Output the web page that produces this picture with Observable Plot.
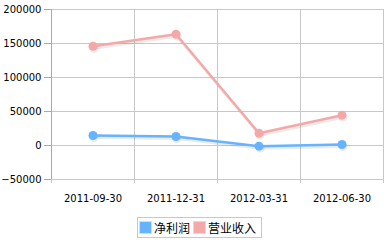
<!DOCTYPE html>
<html><head><meta charset="utf-8">
<script src="https://cdn.jsdelivr.net/npm/d3@7"></script>
<script src="https://cdn.jsdelivr.net/npm/@observablehq/plot@0.6"></script>
<style>
body{margin:0;background:#fff;width:390px;height:242px;overflow:hidden;font-family:"DejaVu Sans",sans-serif}
#legend{position:absolute;left:137px;top:217px;height:19px;border:1px solid #c8c8c8;display:flex;align-items:center;padding:0 2px 0 1px;font-family:"Noto Sans CJK SC",sans-serif;font-size:12px;line-height:19px;background:#fff}
#legend .sw{display:inline-block;width:13px;height:13px;margin:0 2px 0 0;border:1px solid #ddd;box-sizing:border-box}
#legend .it{display:flex;align-items:center;margin-right:3px}
</style></head><body>
<div id="chart"></div>
<div id="legend"></div>
<script>
const categories = ["2011-09-30", "2011-12-31", "2012-03-31", "2012-06-30"];
const netProfit = [14700, 13200, -1000, 1500];
const revenue = [146000, 163700, 18100, 44600];
const seriesNames = ["净利润", "营业收入"];
const seriesColors = ["#66b3ff", "#f5a8a8"];
const yTicks = [-50000, 0, 50000, 100000, 150000, 200000];

const data = [];
categories.forEach((c, i) => {
  data.push({pos: i + 0.5, v: netProfit[i], s: seriesNames[0]});
  data.push({pos: i + 0.5, v: revenue[i], s: seriesNames[1]});
});
const edges = d3.range(categories.length + 1);
const centers = categories.map((c, i) => i + 0.5);

const chart = Plot.plot({
  width: 390, height: 210,
  marginLeft: 51, marginRight: 7, marginTop: 9, marginBottom: 31,
  x: {domain: [0, categories.length], axis: null},
  y: {domain: [-50000, 200000], axis: null},
  color: {domain: seriesNames, range: seriesColors},
  style: {fontFamily: "DejaVu Sans", fontSize: "10px", color: "#000", background: "#fff"},
  marks: [
    Plot.gridY(yTicks, {stroke: "#c8c8c8", strokeOpacity: 1}),
    Plot.gridX(edges, {stroke: "#c8c8c8", strokeOpacity: 1}),
    Plot.axisY({ticks: yTicks, tickSize: 7, tickPadding: 3, tickFormat: d3.format("d"), stroke: "#aaa", label: null}),
    Plot.axisX({ticks: edges, tickSize: 4, tickFormat: () => "", stroke: "#c8c8c8", label: null}),
    Plot.axisX({ticks: centers, tickSize: 0, tickPadding: 15, tickFormat: d => categories[Math.floor(d)], label: null}),
    Plot.ruleX([0], {stroke: "#aaa"}),
    Plot.ruleY([-50000], {stroke: "#c8c8c8"}),
    Plot.line(data, {x: "pos", y: "v", z: "s", stroke: "#000", strokeOpacity: 0.08, strokeWidth: 3, dx: 1, dy: 2}),
    Plot.dot(data, {x: "pos", y: "v", fill: "#000", fillOpacity: 0.08, r: 4.5, dx: 1, dy: 2}),
    Plot.line(data, {x: "pos", y: "v", z: "s", stroke: "s", strokeWidth: 2.5}),
    Plot.dot(data, {x: "pos", y: "v", fill: "s", r: 4.5})
  ]
});
document.getElementById("chart").appendChild(chart);

const legend = document.getElementById("legend");
seriesNames.forEach((n, i) => {
  const it = document.createElement("span");
  it.className = "it";
  const sw = document.createElement("span");
  sw.className = "sw";
  sw.style.background = seriesColors[i];
  it.appendChild(sw);
  it.appendChild(document.createTextNode(n));
  legend.appendChild(it);
});
</script>
</body></html>
